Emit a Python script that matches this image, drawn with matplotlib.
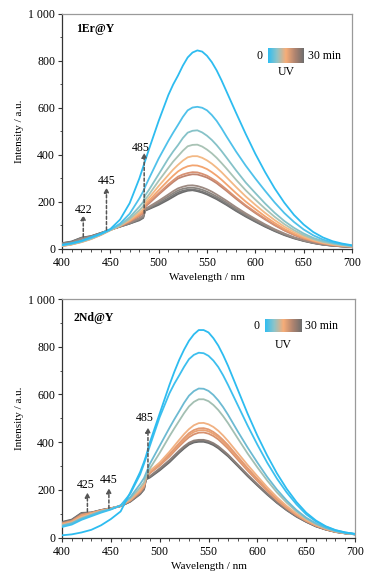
import numpy as np
import matplotlib
matplotlib.use("Agg")
import matplotlib.pyplot as plt
from matplotlib.colors import LinearSegmentedColormap
from matplotlib.ticker import MultipleLocator, FuncFormatter

plt.rcParams['font.family'] = ['Liberation Serif', 'DejaVu Serif']
plt.rcParams['font.size'] = 8

# wavelength grid (nm)
wl = [400, 410, 420, 430, 440, 450, 460, 470, 480, 484, 486, 490, 500, 510,
      515, 520, 525, 530, 535, 540, 545, 550, 555, 560, 565,
      570, 580, 590, 600, 610, 620, 630, 640, 650, 660, 670, 680, 690, 700]

# 1Er@Y spectra, 0 -> 30 min UV
er_0 = [18, 25, 35, 50, 65, 85, 125, 195, 300, 350, 375, 425, 545, 655, 700, 738, 780, 815, 836, 845, 840, 822, 795, 760, 718, 672, 580, 490, 405, 328, 258, 197, 145, 104, 72, 49, 33, 23, 16]
er_1 = [16, 23, 33, 47, 63, 82, 108, 150, 215, 245, 265, 300, 385, 460, 495, 528, 562, 590, 602, 605, 601, 590, 570, 545, 514, 480, 415, 355, 300, 248, 198, 153, 115, 83, 58, 40, 28, 20, 14]
er_2 = [15, 22, 32, 45, 62, 82, 102, 135, 180, 200, 228, 252, 318, 385, 415, 442, 472, 495, 503, 505, 496, 482, 464, 442, 417, 390, 335, 283, 238, 194, 154, 119, 90, 66, 47, 34, 25, 18, 13]
er_3 = [14, 21, 31, 44, 61, 81, 100, 128, 165, 182, 210, 232, 290, 345, 372, 395, 418, 437, 443, 444, 436, 423, 407, 388, 366, 343, 295, 250, 210, 172, 137, 106, 80, 59, 42, 30, 22, 16, 12]
er_4 = [13, 20, 30, 43, 60, 80, 99, 124, 155, 170, 198, 218, 268, 315, 338, 358, 376, 390, 395, 395, 388, 377, 363, 346, 327, 306, 264, 224, 188, 154, 123, 95, 72, 53, 38, 27, 20, 15, 11]
er_5 = [12, 19, 29, 42, 59, 80, 98, 120, 148, 162, 190, 206, 250, 292, 312, 330, 343, 352, 356, 355, 349, 340, 327, 312, 295, 276, 238, 202, 170, 139, 111, 86, 65, 48, 35, 25, 18, 14, 10]
er_6 = [13, 20, 31, 44, 61, 81, 98, 118, 143, 155, 183, 198, 237, 275, 292, 308, 317, 323, 327, 326, 320, 312, 300, 287, 271, 254, 219, 186, 157, 129, 103, 80, 61, 45, 33, 24, 17, 13, 10]
er_7 = [14, 21, 33, 46, 62, 81, 97, 116, 140, 152, 180, 194, 232, 268, 285, 300, 308, 314, 318, 317, 311, 304, 293, 280, 264, 248, 214, 182, 153, 126, 101, 79, 60, 44, 32, 23, 17, 13, 10]
er_8 = [20, 27, 42, 52, 66, 82, 96, 112, 132, 142, 172, 180, 205, 232, 246, 258, 265, 270, 271, 268, 262, 254, 244, 232, 219, 206, 178, 152, 128, 105, 84, 66, 50, 37, 27, 20, 15, 11, 9]
er_9 = [22, 29, 45, 53, 67, 82, 96, 110, 128, 138, 168, 176, 199, 224, 237, 249, 256, 260, 261, 258, 252, 244, 234, 223, 211, 198, 171, 146, 123, 101, 81, 63, 48, 36, 26, 19, 14, 11, 9]
er_10 = [24, 31, 47, 54, 68, 82, 95, 108, 125, 135, 165, 172, 193, 216, 229, 241, 248, 252, 253, 250, 244, 236, 226, 216, 204, 191, 165, 141, 119, 97, 78, 61, 47, 35, 26, 19, 14, 11, 9]
er_11 = [25, 32, 48, 55, 68, 82, 95, 108, 122, 132, 163, 170, 188, 210, 222, 234, 242, 248, 250, 246, 240, 232, 222, 212, 200, 188, 162, 138, 116, 95, 76, 59, 45, 34, 25, 18, 14, 11, 9]

# 2Nd@Y spectra, 0 -> 30 min UV
nd_0 = [10, 14, 22, 33, 52, 78, 110, 190, 275, 318, 342, 400, 520, 640, 695, 745, 788, 825, 852, 870, 870, 860, 836, 805, 765, 720, 620, 520, 428, 345, 270, 205, 150, 105, 72, 48, 32, 22, 16]
nd_1 = [45, 55, 75, 90, 105, 118, 135, 185, 265, 310, 335, 385, 505, 605, 645, 680, 716, 748, 766, 775, 773, 762, 742, 715, 680, 640, 555, 470, 390, 315, 248, 190, 140, 98, 68, 46, 31, 22, 16]
nd_2 = [50, 60, 80, 95, 110, 120, 135, 170, 225, 250, 270, 310, 385, 460, 496, 530, 565, 595, 614, 625, 624, 615, 598, 575, 547, 515, 445, 378, 315, 255, 202, 156, 116, 84, 60, 41, 28, 20, 15]
nd_3 = [52, 62, 82, 96, 110, 120, 135, 165, 210, 232, 255, 290, 355, 425, 458, 490, 522, 550, 569, 580, 580, 572, 556, 535, 509, 480, 416, 353, 295, 240, 190, 147, 110, 80, 57, 40, 27, 19, 15]
nd_4 = [55, 65, 88, 100, 112, 121, 135, 160, 200, 222, 258, 280, 315, 360, 385, 410, 434, 455, 471, 480, 481, 475, 464, 448, 428, 405, 355, 305, 258, 212, 170, 133, 101, 75, 54, 38, 26, 19, 15]
nd_5 = [57, 67, 92, 102, 113, 121, 134, 158, 196, 218, 255, 275, 308, 350, 373, 396, 418, 438, 451, 458, 459, 454, 443, 428, 409, 388, 340, 292, 247, 203, 163, 128, 97, 72, 52, 37, 26, 19, 15]
nd_6 = [58, 68, 94, 103, 114, 122, 134, 157, 194, 216, 253, 272, 305, 345, 368, 390, 411, 430, 443, 450, 451, 446, 435, 421, 402, 381, 334, 287, 243, 200, 160, 126, 96, 71, 51, 36, 25, 19, 15]
nd_7 = [60, 70, 96, 104, 114, 122, 133, 156, 192, 214, 252, 270, 302, 340, 362, 383, 403, 421, 433, 440, 441, 436, 426, 412, 393, 373, 327, 281, 238, 196, 157, 123, 94, 70, 50, 36, 25, 19, 15]
nd_8 = [62, 72, 100, 104, 115, 123, 133, 153, 186, 206, 248, 258, 290, 325, 345, 365, 383, 398, 407, 410, 410, 405, 396, 383, 366, 348, 306, 264, 224, 186, 150, 118, 91, 68, 49, 35, 25, 18, 14]
nd_9 = [64, 74, 102, 105, 116, 123, 132, 152, 184, 204, 246, 255, 286, 320, 340, 360, 378, 394, 403, 406, 406, 401, 392, 379, 362, 345, 303, 261, 221, 183, 148, 117, 90, 67, 48, 34, 24, 18, 14]
nd_10 = [66, 76, 104, 106, 116, 124, 132, 151, 182, 202, 244, 252, 282, 316, 336, 356, 374, 390, 399, 402, 402, 397, 388, 375, 358, 341, 300, 258, 219, 181, 146, 115, 88, 66, 47, 34, 24, 18, 14]

er_curves = [er_0, er_1, er_2, er_3, er_4, er_5, er_6, er_7, er_8, er_9, er_10, er_11]
nd_curves = [nd_0, nd_1, nd_2, nd_3, nd_4, nd_5, nd_6, nd_7, nd_8, nd_9, nd_10]

# peak marks: (arrow x, arrow start y, arrow tip y, label x, label y, label)
er_marks = [(422, 52, 145, 422, 165, "422"),
            (446, 81, 262, 446, 288, "445"),
            (485, 152, 410, 481, 428, "485")]
nd_marks = [(426, 109, 190, 424, 222, "425"),
            (448, 123, 208, 448, 243, "445"),
            (488, 250, 462, 485, 500, "485")]

er_colors = ["#2dbcf0", "#4fc1ea", "#86c2c8", "#a9c3b5", "#f3b985", "#f3a46f",
             "#d89273", "#c08570", "#9c8a82", "#8a8580", "#777777", "#6a6a6a"]
nd_colors = ["#2dbcf0", "#3dbfee", "#6cbad2", "#a3bfb2", "#f1b182", "#e39a72",
             "#eaa274", "#d7916f", "#8c7f79", "#777777", "#666666"]

cmap = LinearSegmentedColormap.from_list(
    "uv", ["#2ebdf2", "#8fc4c8", "#f7ad78", "#b08470", "#6d6d6d"])

fig = plt.figure(figsize=(3.68, 5.83), dpi=100)
ax1 = fig.add_axes([0.1685, 0.5729, 0.788, 0.4031])
ax2 = fig.add_axes([0.1685, 0.0777, 0.7962, 0.4094])


def draw_panel(ax, curves, colors, marks, name, name_xy, cbar_box, lbl_y):
    n = len(curves)
    for i, c in enumerate(curves):
        ax.plot(wl, c, color=colors[i], lw=1.3, zorder=3 + (n - i) * 0.01,
                solid_joinstyle="round")
    for x, y0, y1, tx, ty, lab in marks:
        ax.annotate("", xy=(x, y1), xytext=(x, y0),
                    arrowprops=dict(arrowstyle="-|>", linestyle=(0, (2, 1.5)),
                                    color="#555555", lw=1.1, mutation_scale=7,
                                    shrinkA=0, shrinkB=0), zorder=5)
        ax.text(tx, ty, lab, ha="center", va="center", fontsize=8.5, zorder=6)
    ax.set_xlim(400, 700)
    ax.set_ylim(0, 1000)
    ax.xaxis.set_major_locator(MultipleLocator(50))
    ax.xaxis.set_minor_locator(MultipleLocator(10))
    ax.yaxis.set_major_locator(MultipleLocator(200))
    ax.yaxis.set_minor_locator(MultipleLocator(100))
    ax.yaxis.set_major_formatter(FuncFormatter(
        lambda v, p: "1 000" if v >= 1000 else "%d" % v))
    ax.tick_params(which="major", direction="out", length=3, width=0.8,
                   labelsize=8.5, pad=2, color="#333333")
    ax.tick_params(axis="x", which="major", pad=3)
    ax.tick_params(which="minor", direction="out", length=1.8, width=0.6,
                   color="#333333")
    for s in ["left", "bottom"]:
        ax.spines[s].set_color("#333333")
        ax.spines[s].set_linewidth(0.9)
    for s in ["top", "right"]:
        ax.spines[s].set_color("#9a9a9a")
        ax.spines[s].set_linewidth(0.9)
    ax.set_xlabel("Wavelength / nm", fontsize=8, labelpad=3)
    ax.set_ylabel("Intensity / a.u.", fontsize=8, labelpad=3)
    ax.text(name_xy[0], name_xy[1], name, transform=ax.transAxes,
            fontweight="bold", fontsize=8.5, ha="left", va="center")
    # UV time colour bar
    x0, x1, y0, y1 = cbar_box
    grad = np.linspace(0, 1, 256).reshape(1, -1)
    ax.imshow(grad, cmap=cmap, aspect="auto", extent=(x0, x1, y0, y1),
              transform=ax.transAxes, zorder=6)
    ax.text(x0 - 0.02, (y0 + y1) / 2, "0", transform=ax.transAxes,
            ha="right", va="center", fontsize=8.5)
    ax.text(x1 + 0.013, (y0 + y1) / 2, "30 min", transform=ax.transAxes,
            ha="left", va="center", fontsize=8.5)
    ax.text((x0 + x1) / 2, lbl_y, "UV", transform=ax.transAxes,
            ha="center", va="center", fontsize=8.5)
    ax.set_xlim(400, 700)
    ax.set_ylim(0, 1000)


draw_panel(ax1, er_curves, er_colors, er_marks, "1Er@Y", (0.05, 0.935),
           (0.710, 0.834, 0.791, 0.851), 0.753)
draw_panel(ax2, nd_curves, nd_colors, nd_marks, "2Nd@Y", (0.038, 0.919),
           (0.693, 0.818, 0.863, 0.915), 0.807)

fig.savefig("out.png", dpi=100)
